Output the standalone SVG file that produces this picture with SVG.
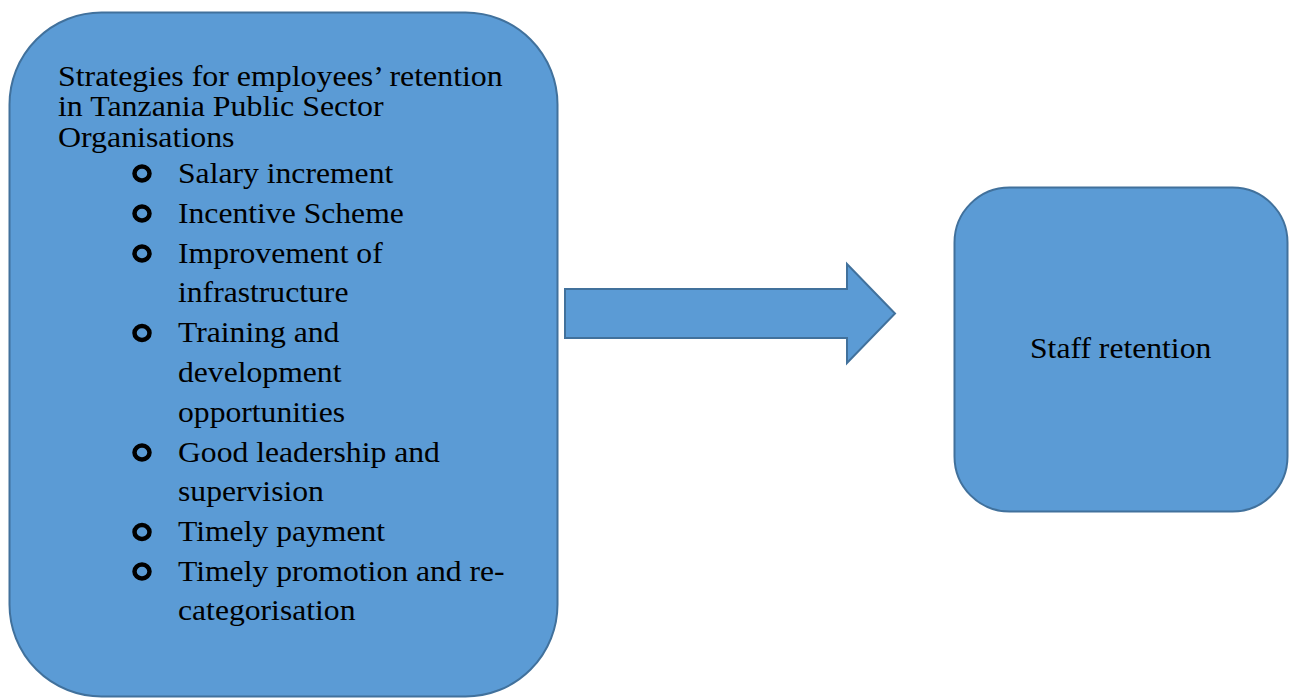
<svg xmlns="http://www.w3.org/2000/svg" width="1289" height="698" viewBox="0 0 1289 698">
<style>
.shape{fill:#5b9bd5;stroke:#41719c;stroke-width:2}
.t{font-family:"Liberation Serif","Times New Roman",serif;fill:#000}
.title{font-size:29px}
.item{font-size:30px}
.bul{fill:none;stroke:#000;stroke-width:4.5}
</style>
<rect width="1289" height="698" fill="#fff"/>
<g id="strategies">
<rect class="shape" x="9.5" y="12.5" width="548" height="684" rx="92" ry="92"/>
<g class="t title" transform="translate(58,0) scale(1.1,1)">
<text x="0" y="86">Strategies for employees’ retention</text>
<text x="0" y="116.5">in Tanzania Public Sector</text>
<text x="0" y="147">Organisations</text>
</g>
<g>
<ellipse class="bul" cx="142" cy="173.5" rx="7.5" ry="7"/>
<ellipse class="bul" cx="142" cy="213.5" rx="7.5" ry="7"/>
<ellipse class="bul" cx="142" cy="253.5" rx="7.5" ry="7"/>
<ellipse class="bul" cx="142" cy="333" rx="7.5" ry="7"/>
<ellipse class="bul" cx="142" cy="452.5" rx="7.5" ry="7"/>
<ellipse class="bul" cx="142" cy="532" rx="7.5" ry="7"/>
<ellipse class="bul" cx="142" cy="571.5" rx="7.5" ry="7"/>
</g>
<g class="t item" transform="translate(178,0) scale(1.055,1)">
<text x="0" y="183">Salary increment</text>
<text x="0" y="223">Incentive Scheme</text>
<text x="0" y="263">Improvement of</text>
<text x="0" y="302.5">infrastructure</text>
<text x="0" y="342.5">Training and</text>
<text x="0" y="382">development</text>
<text x="0" y="422">opportunities</text>
<text x="0" y="462">Good leadership and</text>
<text x="0" y="501.5">supervision</text>
<text x="0" y="541.5">Timely payment</text>
<text x="0" y="581">Timely promotion and re-</text>
<text x="0" y="620.5">categorisation</text>
</g>
</g>
<g id="connectors">
<path class="shape" d="M565,289 L847,289 L847,264 L895,313.5 L847,363 L847,338 L565,338 Z"/>
</g>
<g id="staff-retention">
<rect class="shape" x="954.5" y="187.5" width="333" height="324" rx="55" ry="55"/>
<g class="t item" transform="translate(1030,0) scale(1.055,1)">
<text x="0" y="358">Staff retention</text>
</g>
</g>
</svg>
